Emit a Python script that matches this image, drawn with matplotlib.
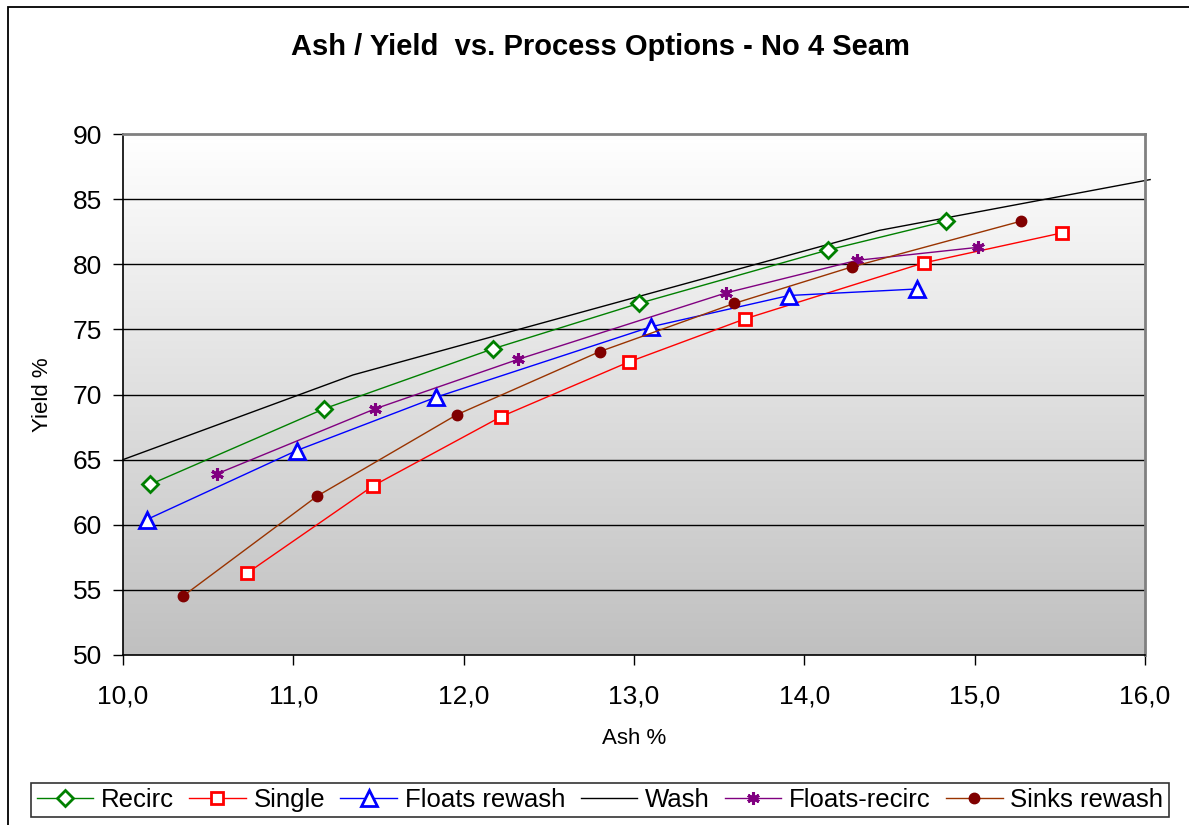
import numpy as np
import matplotlib
matplotlib.use("Agg")
import matplotlib.pyplot as plt
from matplotlib.colors import LinearSegmentedColormap
from matplotlib.patches import Rectangle

plt.rcParams["font.family"] = ["Liberation Sans", "DejaVu Sans"]

# --- data --------------------------------------------------------------
recirc_ash = [10.16, 11.18, 12.17, 13.03, 14.14, 14.83]
recirc_yield = [63.1, 68.9, 73.5, 77.0, 81.1, 83.3]

single_ash = [10.73, 11.47, 12.22, 12.97, 13.65, 14.70, 15.51]
single_yield = [56.3, 63.0, 68.3, 72.5, 75.8, 80.1, 82.4]

floats_ash = [10.14, 11.02, 11.84, 13.10, 13.91, 14.66]
floats_yield = [60.4, 65.7, 69.8, 75.2, 77.6, 78.1]

wash_ash = [10.0, 11.35, 14.44, 16.03]
wash_yield = [65.0, 71.5, 82.6, 86.5]

frecirc_ash = [10.55, 11.48, 12.32, 13.54, 14.31, 15.02]
frecirc_yield = [63.9, 68.9, 72.7, 77.8, 80.3, 81.3]

sinks_ash = [10.35, 11.14, 11.96, 12.80, 13.59, 14.28, 15.27]
sinks_yield = [54.5, 62.2, 68.45, 73.3, 77.0, 79.8, 83.3]

x_ticks = [10, 11, 12, 13, 14, 15, 16]
y_ticks = [50, 55, 60, 65, 70, 75, 80, 85, 90]

W, H = 1189, 825
fig = plt.figure(figsize=(W / 100, H / 100), dpi=100)
fig.patch.set_facecolor("white")

ax = fig.add_axes([123 / W, 1 - 655 / H, (1145 - 123) / W, (655 - 134) / H])
ax.set_xlim(10, 16)
ax.set_ylim(50, 90)

# plot-area gradient: white at top, grey at bottom
grad_cmap = LinearSegmentedColormap.from_list("bg", ["#C0C0C0", "#FFFFFF"])
ax.imshow(np.linspace(0, 1, 256).reshape(-1, 1), extent=[10, 16, 50, 90],
          origin="lower", aspect="auto", cmap=grad_cmap, zorder=0)

for yv in y_ticks[1:-1]:
    ax.axhline(yv, color="black", lw=1.0, zorder=1)

ax.plot(recirc_ash, recirc_yield, color="#008000", lw=1.0, marker="D",
        ms=8, mfc="white", mec="#008000", mew=2, label="Recirc", zorder=3)
ax.plot(single_ash, single_yield, color="#FF0000", lw=1.0, marker="s",
        ms=8, mfc="white", mec="#FF0000", mew=2, label="Single", zorder=3)
ax.plot(floats_ash, floats_yield, color="#0000FF", lw=1.0, marker="^",
        ms=11, mfc="white", mec="#0000FF", mew=2, label="Floats rewash", zorder=3)
ax.plot(wash_ash, wash_yield, color="black", lw=1.0, label="Wash",
        clip_on=False, zorder=2)
ax.plot(frecirc_ash, frecirc_yield, color="#800080", lw=1.0, marker=(6, 2, 0),
        ms=9, mec="#800080", mew=2.2, label="Floats-recirc", zorder=3)
ax.plot(sinks_ash, sinks_yield, color="#993300", lw=1.0, marker="o",
        ms=7.5, mfc="#800000", mec="#800000", label="Sinks rewash", zorder=3)

ax.set_xticks(x_ticks)
ax.set_xticklabels([f"{v:.1f}".replace(".", ",") for v in x_ticks])
ax.set_yticks(y_ticks)
ax.tick_params(axis="both", direction="out", length=7, width=1, labelsize=19,
               color="black")
ax.tick_params(axis="x", pad=14)
ax.tick_params(axis="y", pad=8)

ax.spines["left"].set_color("black")
ax.spines["bottom"].set_color("black")
ax.spines["left"].set_linewidth(1.2)
ax.spines["bottom"].set_linewidth(1.2)
for side in ("top", "right"):
    ax.spines[side].set_color("#808080")
    ax.spines[side].set_linewidth(2)

ax.set_xlabel("Ash %", fontsize=16, labelpad=14)
ax.set_ylabel("Yield %", fontsize=16, labelpad=14)

fig.text(0.505, 1 - 47 / H, "Ash / Yield  vs. Process Options - No 4 Seam",
         ha="center", va="center", fontsize=21, fontweight="bold")

leg = fig.legend(loc="center", bbox_to_anchor=(600 / W, 1 - 800 / H), ncol=6,
                 fontsize=18.5, frameon=True, fancybox=False, edgecolor="black",
                 handlelength=2.2, handletextpad=0.3, columnspacing=0.6,
                 borderpad=0.2, borderaxespad=0)
leg.get_frame().set_linewidth(1.2)

# outer chart border (left/top visible in the reference)
fig.add_artist(Rectangle((7.5 / W, -0.05), 1.2, 1 - 6.5 / H + 0.05,
                         transform=fig.transFigure, fill=False,
                         edgecolor="black", lw=1.3))

fig.savefig("out.png", dpi=100, facecolor="white")
